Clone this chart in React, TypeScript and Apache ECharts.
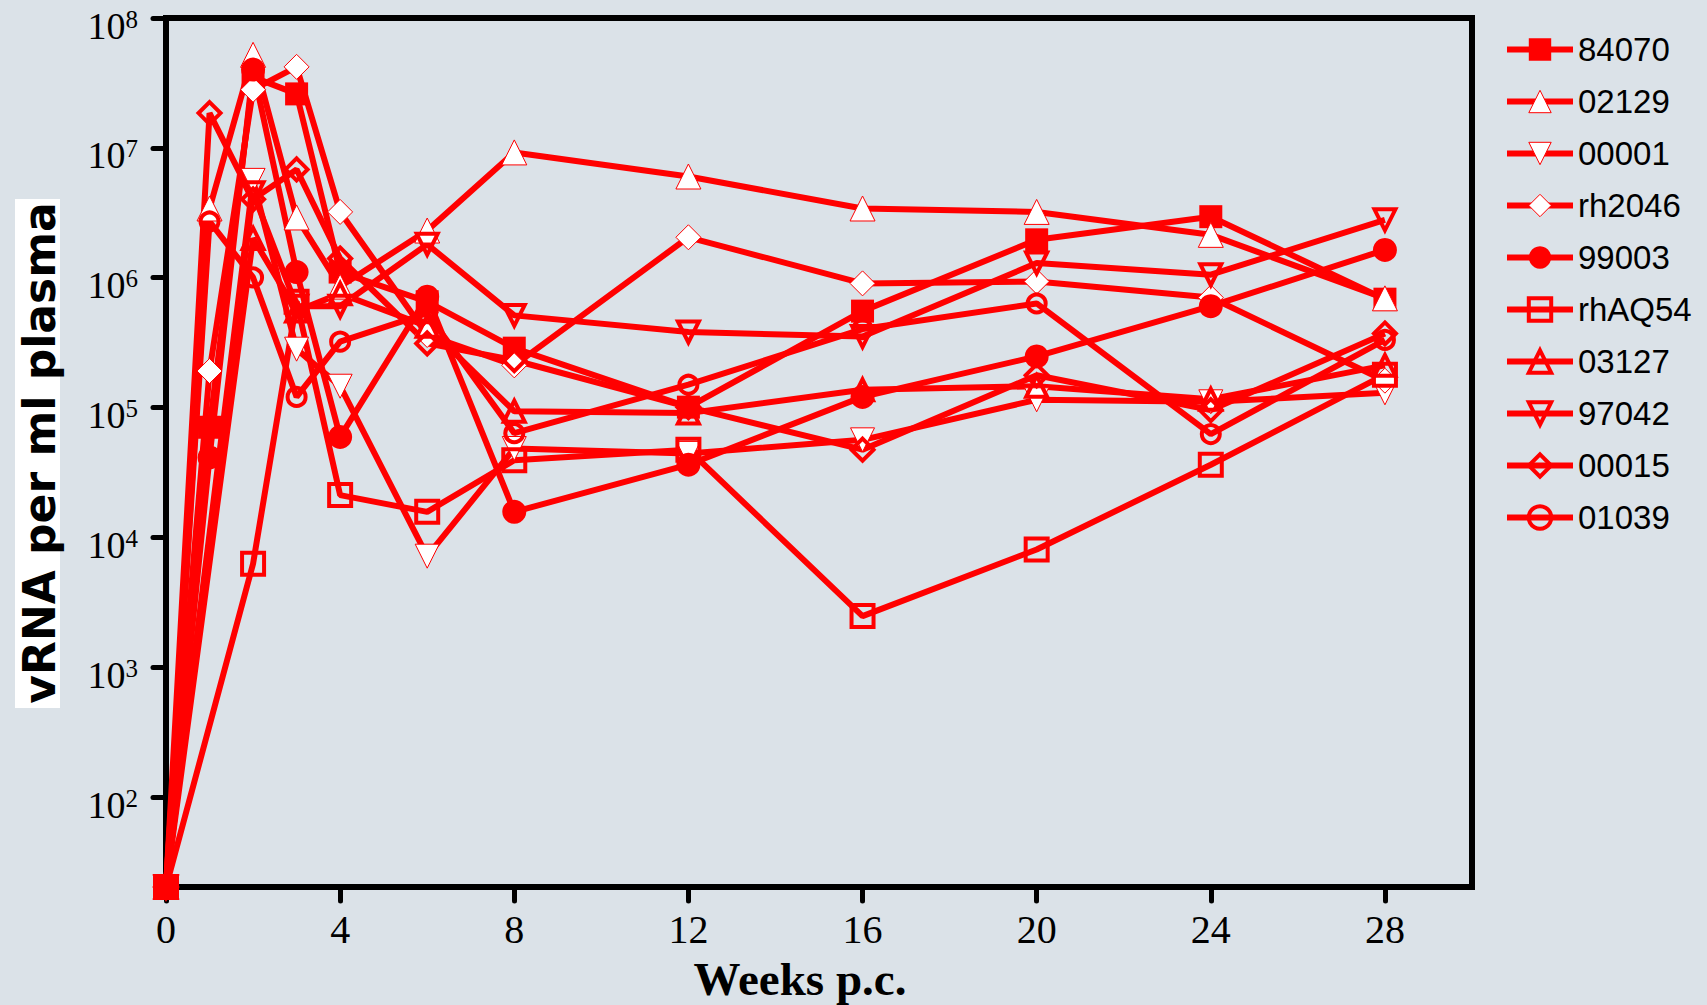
import React, { useEffect, useRef } from 'react';
import * as echarts from 'echarts';

// ---- data ----
const weeks = [0, 1, 2, 3, 4, 6, 8, 12, 16, 20, 24, 28];
const seriesNames = ['84070', '02129', '00001', 'rh2046', '99003', 'rhAQ54', '03127', '97042', '00015', '01039'];

const v84070 = [20, 7.0e4, 3.5e7, 2.6e7, 1.1e6, 6.5e5, 2.85e5, 1.0e5, 5.5e5, 1.95e6, 2.94e6, 6.8e5];
const v02129 = [20, 3.4e6, 5.2e7, 2.9e6, 8.5e5, 2.3e6, 9.2e6, 6.0e6, 3.4e6, 3.2e6, 2.13e6, 6.9e5];
const v00001 = [20, null, 5.6e6, 2.8e5, 1.45e5, 7.1e3, 4.8e4, 4.4e4, 5.6e4, 1.14e5, 1.1e5, 1.29e5];
const vRh2046 = [20, 1.9e5, 2.8e7, 4.2e7, 3.2e6, 3.6e5, 2.1e5, 2.04e6, 9.0e5, 9.3e5, 7.0e5, 1.6e5];
const v99003 = [20, 4.1e4, 4.0e7, 1.1e6, 5.9e4, 7.1e5, 1.56e4, 3.6e4, 1.2e5, 2.46e5, 6.0e5, 1.63e6];
const vRhAQ54 = [20, null, 6.2e3, 6.5e5, 2.1e4, 1.56e4, 3.9e4, 4.7e4, 2.45e3, 8.0e3, 3.6e4, 1.78e5];
const v03127 = [20, null, 2.0e6, 5.5e5, 7.5e5, 4.2e5, 9.3e4, 9.0e4, 1.36e5, 1.45e5, 1.15e5, 2.1e5];
const v97042 = [20, null, 4.5e6, 6.0e5, 6.0e5, 1.8e6, 5.1e5, 3.8e5, 3.5e5, 1.29e6, 1.05e6, 2.78e6];
const v00015 = [20, 1.85e7, 4.0e6, 6.8e6, 1.4e6, 3.1e5, 2.3e5, 1.0e5, 4.7e4, 1.76e5, 9.5e4, 3.7e5];
const v01039 = [20, 2.7e6, 1.0e6, 1.2e5, 3.2e5, 5.3e5, 6.3e4, 1.49e5, 4.0e5, 6.3e5, 6.2e4, 3.3e5];

const seriesValues = [v84070, v02129, v00001, vRh2046, v99003, vRhAQ54, v03127, v97042, v00015, v01039];

const xTickLabels = [0, 4, 8, 12, 16, 20, 24, 28];
const yTickExponents = [2, 3, 4, 5, 6, 7, 8];

// ---- styles ----
const RED = '#ff0000';
const NONE = 'rgba(0,0,0,0)';
const INV = 'path://M0,0L20,0L10,18Z';
const markerStyles = [
  { symbol: 'rect', fill: RED, bw: 0, size: 23 },
  { symbol: 'triangle', fill: '#ffffff', bw: 1, size: 25 },
  { symbol: INV, fill: '#ffffff', bw: 1, size: 24 },
  { symbol: 'diamond', fill: '#ffffff', bw: 1, size: 25 },
  { symbol: 'circle', fill: RED, bw: 0, size: 24 },
  { symbol: 'rect', fill: NONE, bw: 4, size: 22 },
  { symbol: 'triangle', fill: NONE, bw: 4, size: 21 },
  { symbol: INV, fill: NONE, bw: 4, size: 21 },
  { symbol: 'diamond', fill: NONE, bw: 4, size: 22 },
  { symbol: 'circle', fill: NONE, bw: 4, size: 18 },
];

const BG = '#dbe2e8';

export default function App() {
  const ref = useRef<HTMLDivElement>(null);

  useEffect(() => {
    document.body.style.margin = '0';
    const chart = echarts.init(ref.current as HTMLDivElement, null, { renderer: 'svg' });

    const series = seriesNames.map((name, si) => {
      const st = markerStyles[si];
      const data = weeks
        .map((w, i) => [w, seriesValues[si][i]])
        .filter((p) => p[1] !== null);
      return {
        name,
        type: 'line',
        xAxisIndex: 0,
        yAxisIndex: 0,
        data,
        clip: false,
        symbol: st.symbol,
        symbolSize: st.size,
        showSymbol: true,
        lineStyle: { color: RED, width: 6 },
        itemStyle: { color: st.fill, borderColor: RED, borderWidth: st.bw },
        emphasis: { disabled: true },
      };
    });

    const option = {
      animation: false,
      backgroundColor: BG,
      grid: [
        {
          left: 166,
          right: 235,
          top: 18,
          bottom: 118,
          show: true,
          borderColor: '#000',
          borderWidth: 6,
          backgroundColor: 'transparent',
        },
        {
          left: 166,
          right: 235,
          top: 18,
          height: 779,
          show: false,
        },
      ],
      xAxis: [
        {
          type: 'value',
          gridIndex: 0,
          min: 0,
          max: 30,
          interval: 4,
          axisLine: { show: false },
          splitLine: { show: false },
          axisTick: {
            show: true,
            length: 14,
            lineStyle: { color: '#000', width: 5, cap: 'round' },
            customValues: xTickLabels,
          },
          axisLabel: {
            customValues: xTickLabels,
            fontFamily: 'Liberation Serif',
            fontSize: 40,
            lineHeight: 40,
            color: '#000',
            margin: 22,
          },
        },
        {
          type: 'value',
          gridIndex: 1,
          min: 0,
          max: 30,
          show: false,
        },
      ],
      yAxis: [
        {
          type: 'log',
          logBase: 10,
          gridIndex: 0,
          min: 20,
          max: 1e8,
          axisLine: { show: false },
          axisTick: { show: false },
          axisLabel: { show: false },
          splitLine: { show: false },
        },
        {
          type: 'log',
          logBase: 10,
          gridIndex: 1,
          min: 100,
          max: 1e8,
          splitNumber: 6,
          axisLine: { show: false },
          splitLine: { show: false },
          axisTick: {
            show: true,
            length: 13,
            lineStyle: { color: '#000', width: 5, cap: 'round' },
          },
          axisLabel: {
            margin: 28,
            padding: [15, 0, 0, 0],
            formatter: (v: number) => {
              const e = Math.round(Math.log10(v));
              return yTickExponents.indexOf(e) >= 0 ? `{b|10}{s|${e}}` : '';
            },
            rich: {
              b: {
                fontFamily: 'Liberation Serif',
                fontSize: 38,
                lineHeight: 38,
                verticalAlign: 'bottom',
                color: '#000',
              },
              s: {
                fontFamily: 'Liberation Serif',
                fontSize: 25,
                lineHeight: 25,
                verticalAlign: 'top',
                color: '#000',
              },
            },
          },
        },
      ],
      legend: {
        orient: 'vertical',
        left: 1499,
        top: 28,
        itemWidth: 66,
        itemHeight: 28,
        itemGap: 19,
        data: seriesNames,
        lineStyle: { width: 6 },
        itemStyle: { borderWidth: 'inherit' },
        textStyle: {
          fontFamily: 'Liberation Sans',
          fontSize: 33,
          lineHeight: 33,
          color: '#000',
        },
      },
      graphic: [
        {
          type: 'rect',
          shape: { x: 15, y: 199, width: 45, height: 509 },
          style: { fill: '#ffffff' },
          z: 10,
        },
        {
          type: 'text',
          x: 39,
          y: 453,
          rotation: Math.PI / 2,
          z: 11,
          style: {
            text: 'vRNA per ml plasma',
            fontFamily: 'DejaVu Sans',
            fontWeight: 'bold',
            fontSize: 44,
            align: 'center',
            verticalAlign: 'middle',
            fill: '#000',
          },
        },
        {
          type: 'text',
          x: 800,
          y: 979,
          z: 11,
          style: {
            text: 'Weeks p.c.',
            fontFamily: 'Liberation Serif',
            fontWeight: 'bold',
            fontSize: 47,
            align: 'center',
            verticalAlign: 'middle',
            fill: '#000',
          },
        },
      ],
      series,
    };

    chart.setOption(option as any);
    return () => {
      chart.dispose();
    };
  }, []);

  return (
    <div
      ref={ref}
      style={{ position: 'absolute', left: 0, top: 0, width: 1707, height: 1005, background: BG }}
    />
  );
}
